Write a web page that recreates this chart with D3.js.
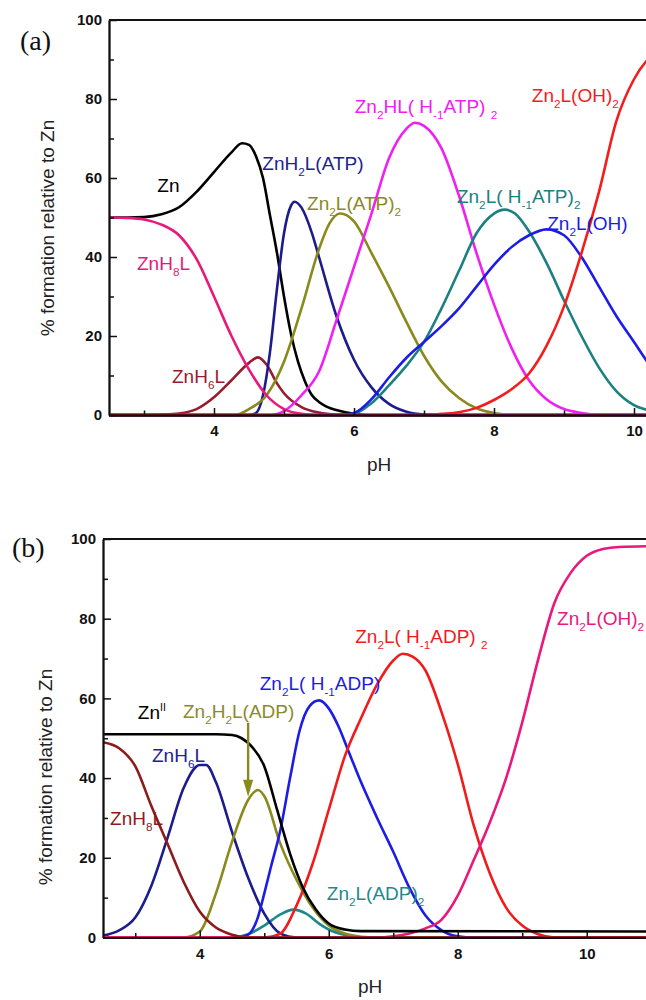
<!DOCTYPE html>
<html>
<head>
<meta charset="utf-8">
<script src="https://cdn.jsdelivr.net/npm/d3@7"></script>
<style>
  body { margin: 0; background: #fff; }
  svg { display: block; font-family: "Liberation Sans", Arial, sans-serif; }
  text { white-space: pre; }
</style>
</head>
<body>
<div id="okvir"></div>
<script>

// 1. Podaci (pH, % nastajanja) -- ocitano sa slike

// (a) ATP
const znA        = [[2.5,50],[2.75,50],[3.0,50.1],[3.25,50.8],[3.5,52.6],[3.75,56.5],[4.0,61.5],[4.25,66.5],[4.4,68.8],[4.5,68.4],[4.6,65.5],[4.7,60],[4.8,50.5],[4.9,41],[5.0,30],[5.1,20.5],[5.2,13.5],[5.3,8.5],[5.4,5],[5.5,3.3],[5.6,2.2],[5.8,1],[6.0,0.3],[6.2,0],[10.5,0]]
const znH8LA     = [[2.5,50],[2.75,49.9],[3.0,49.5],[3.25,48.2],[3.5,45.5],[3.75,39.5],[4.0,30],[4.25,20],[4.5,11.5],[4.75,5],[5.0,1.5],[5.25,0.3],[5.5,0],[10.5,0]]
const znH6LA     = [[2.5,0],[3.0,0],[3.25,0.1],[3.5,0.4],[3.75,1.5],[4.0,4.5],[4.25,8.8],[4.5,13.2],[4.63,14.6],[4.75,12.8],[4.9,8],[5.0,5.5],[5.25,2],[5.5,0.6],[5.75,0.1],[6.0,0],[10.5,0]]
const znH2LatpA  = [[2.5,0],[4.5,0],[4.6,0.5],[4.7,5],[4.8,16],[4.9,32],[5.0,46],[5.1,53],[5.15,54],[5.25,52.5],[5.4,46],[5.5,40],[5.75,25],[6.0,14],[6.25,7],[6.5,2.8],[6.75,0.8],[7.0,0.1],[7.2,0],[10.5,0]]
const zn2LatpA   = [[2.5,0],[4.3,0],[4.5,1.5],[4.75,5],[5.0,13.5],[5.25,27],[5.5,42],[5.65,48.5],[5.8,51],[6.0,49],[6.25,41],[6.5,32.5],[6.75,23.5],[7.0,15],[7.25,8.5],[7.5,4.3],[7.75,1.7],[8.0,0.5],[8.25,0],[10.5,0]]
const zn2HLA     = [[2.5,0],[4.8,0],[5.0,1],[5.25,5],[5.5,11],[5.75,24],[6.0,37.5],[6.25,51],[6.5,65],[6.75,72.5],[6.87,74],[7.0,73.2],[7.25,67.5],[7.5,55.5],[7.75,41],[8.0,28],[8.25,17],[8.5,8.8],[8.75,4],[9.0,1.5],[9.25,0.5],[9.5,0],[10.5,0]]
const zn2LH1A    = [[2.5,0],[5.8,0],[6.0,0.3],[6.25,3],[6.5,7.5],[6.75,12.5],[7.0,18.5],[7.25,27],[7.5,36.5],[7.75,46],[8.0,51],[8.15,52],[8.3,51],[8.5,46.5],[8.75,38.5],[9.0,29],[9.25,20],[9.5,12],[9.75,6],[10.0,2.5],[10.25,1],[10.5,0.3]]
const zn2LOHA    = [[2.5,0],[5.8,0],[6.0,0.5],[6.25,4],[6.5,9.5],[6.75,14.5],[7.0,18.5],[7.25,22.5],[7.5,27],[7.75,32.5],[8.0,38],[8.25,42.5],[8.5,45.5],[8.75,47],[9.0,45.5],[9.25,40],[9.5,32.5],[9.75,25],[10.0,18.5],[10.25,12],[10.5,7]]
const zn2LOH2A   = [[2.5,0],[7.0,0],[7.25,0.3],[7.5,0.7],[7.75,1.8],[8.0,3.8],[8.25,6.5],[8.5,10.5],[8.75,17.5],[9.0,27.5],[9.25,41],[9.5,56.5],[9.75,74.5],[10.0,85],[10.25,91],[10.5,94]]

// (b) ADP
const znIIB      = [[2.5,51],[4.25,51],[4.5,50.8],[4.65,50],[4.8,48],[5.0,43],[5.2,32],[5.4,21],[5.6,12.5],[5.8,7],[6.0,3.5],[6.25,2],[6.5,1.6],[11.5,1.5]]
const znH8LB     = [[2.5,49],[2.75,47.5],[3.0,43],[3.25,33],[3.5,23.5],[3.75,14],[4.0,6.5],[4.25,2.5],[4.5,0.7],[4.75,0],[11.5,0]]
const znH6LB     = [[2.5,0.5],[2.75,1.8],[3.0,5],[3.25,13],[3.5,25],[3.75,37.5],[4.0,43.3],[4.1,43.3],[4.25,39],[4.5,26.5],[4.75,15],[5.0,6],[5.25,1],[5.5,0],[11.5,0]]
const zn2H2LB    = [[2.5,0],[3.75,0],[4.0,1.5],[4.25,11],[4.5,24],[4.75,34.5],[4.9,37],[5.0,35.5],[5.25,23.5],[5.5,14.5],[5.75,7.5],[6.0,3],[6.25,1],[6.5,0.2],[6.75,0],[11.5,0]]
const zn2LadpB   = [[2.5,0],[4.5,0],[4.75,0.8],[5.0,3],[5.25,5.8],[5.45,7],[5.65,6],[5.85,3.5],[6.0,2],[6.25,0.6],[6.5,0],[11.5,0]]
const zn2LH1B    = [[2.5,0],[4.6,0],[4.75,0.7],[4.9,5],[5.0,11],[5.1,17.5],[5.25,27],[5.4,40],[5.55,52],[5.7,58],[5.85,59.5],[6.0,57.5],[6.15,53],[6.3,47],[6.5,39],[6.75,30],[7.0,21.5],[7.25,12.5],[7.5,5.5],[7.75,1.8],[8.0,0.3],[8.25,0],[11.5,0]]
const zn2LH1_2B  = [[2.5,0],[5.0,0],[5.25,1],[5.5,8],[5.75,18.5],[6.0,32],[6.25,45.5],[6.5,55],[6.75,63.5],[7.0,69.5],[7.15,71.2],[7.3,70.5],[7.5,67],[7.75,56.5],[8.0,43.5],[8.25,28],[8.5,16],[8.75,7.5],[9.0,3],[9.25,0.8],[9.5,0],[11.5,0]]
const zn2LOH2B   = [[2.5,0],[6.75,0],[7.0,0.3],[7.25,1],[7.5,2.3],[7.75,4.5],[8.0,10.5],[8.25,19.5],[8.5,29],[8.75,40],[9.0,54],[9.25,70],[9.5,84],[9.75,91.5],[10.0,95.8],[10.25,97.5],[10.5,98],[11.5,98.3]]

// oznake osi
const yGlavne = [0, 20, 40, 60, 80, 100]
const ySporedne = [10, 30, 50, 70, 90]
const xGlavne = [4, 6, 8, 10]
const xSporedne = [3, 5, 7, 9, 11]

// 2. Postavke panela

const panelA = {
  slovo: "(a)", slovoX: 20, slovoY: 50,
  lijevo: 109, gore: 20, dolje: 415, pxPoPh: 70, phMax: 10.5,
  naslovY: 228, naslovX: 54, phOznaka: [6.36, 471],
  serije: [
    { podaci: znA, boja: "#000000" },
    { podaci: znH6LA, boja: "#9a1b2e" },
    { podaci: znH2LatpA, boja: "#1c1c8c" },
    { podaci: zn2LatpA, boja: "#8a8a1c" },
    { podaci: zn2HLA, boja: "#f020f0" },
    { podaci: zn2LH1A, boja: "#1c8080" },
    { podaci: zn2LOHA, boja: "#1c1ce6" },
    { podaci: zn2LOH2A, boja: "#f51c1c" },
    { podaci: znH8LA, boja: "#e8187c" },
  ],
  oznake: [
    { t: "Zn", ph: 3.19, v: 56.5, boja: "#000000" },
    { t: "ZnH_{8}L", ph: 2.9, v: 36.7, boja: "#e8187c" },
    { t: "ZnH_{6}L", ph: 3.4, v: 8.1, boja: "#9a1b2e" },
    { t: "ZnH_{2}L(ATP)", ph: 4.69, v: 62, boja: "#22228f" },
    { t: "Zn_{2}L(ATP)_{2}", ph: 5.33, v: 51.9, boja: "#8a8a1c" },
    { t: "Zn_{2}HL( H_{-1}ATP) _{2}", ph: 6.01, v: 76.5, boja: "#f020f0" },
    { t: "Zn_{2}L(OH)_{2}", ph: 8.54, v: 79.2, boja: "#f51c1c" },
    { t: "Zn_{2}L( H_{-1}ATP)_{2}", ph: 7.47, v: 53.7, boja: "#1c8080" },
    { t: "Zn_{2}L(OH)", ph: 8.76, v: 46.8, boja: "#1c1ce6" },
  ],
}

const panelB = {
  slovo: "(b)", slovoX: 12, slovoY: 557,
  lijevo: 103, gore: 539, dolje: 937.5, pxPoPh: 64.5, phMax: 11.5,
  naslovY: 777, naslovX: 52, phOznaka: [6.64, 993],
  serije: [
    { podaci: zn2LadpB, boja: "#1c8a8a" },
    { podaci: znH6LB, boja: "#1c1c8c" },
    { podaci: zn2H2LB, boja: "#8a8a1c" },
    { podaci: zn2LH1B, boja: "#1c1ce6" },
    { podaci: zn2LH1_2B, boja: "#f01c1c" },
    { podaci: zn2LOH2B, boja: "#e8187c" },
    { podaci: znIIB, boja: "#000000" },
    { podaci: znH8LB, boja: "#8c1c1c" },
  ],
  oznake: [
    { t: "Zn^{II}", ph: 3.04, v: 54.9, boja: "#000000" },
    { t: "Zn_{2}H_{2}L(ADP)", ph: 3.74, v: 55.2, boja: "#8a8a2a" },
    { t: "ZnH_{6}L", ph: 3.26, v: 44.1, boja: "#22228f" },
    { t: "ZnH_{8}L", ph: 2.61, v: 28.3, boja: "#8c1c1c" },
    { t: "Zn_{2}L( H_{-1}ADP)", ph: 4.93, v: 62.2, boja: "#1c1ce6" },
    { t: "Zn_{2}L( H_{-1}ADP) _{2}", ph: 6.41, v: 74, boja: "#f01c1c" },
    { t: "Zn_{2}L(OH)_{2}", ph: 9.54, v: 78.5, boja: "#e8187c" },
    { t: "Zn_{2}L(ADP)_{2}", ph: 5.97, v: 9.4, boja: "#1c8a8a" },
  ],
  strelica: { ph: 4.75, od: 53.9, do: 35.3, boja: "#8a8a1c" },
}

// 3. Canvas

const okvir = d3.select("#okvir")
  .append("svg")
    .attr("width", 646)
    .attr("height", 1000)

function pisiOznaku(g, x, y, tekst, boja, vel) {
  const t = g.append("text")
      .attr("x", x)
      .attr("y", y)
      .attr("fill", boja)
      .attr("xml:space", "preserve")
      .style("font-size", vel + "px")
  const dijelovi = tekst.split(/(_\{[^}]*\}|\^\{[^}]*\})/).filter(s => s.length)
  let trenutni = 0
  dijelovi.forEach(d => {
    let sadrzaj = d, pomak = 0, velicina = vel
    if (d.startsWith("_{")) { sadrzaj = d.slice(2, -1); pomak = vel * 0.32; velicina = vel * 0.62 }
    else if (d.startsWith("^{")) { sadrzaj = d.slice(2, -1); pomak = -vel * 0.42; velicina = vel * 0.55 }
    t.append("tspan")
        .attr("dy", pomak - trenutni)
        .style("font-size", velicina + "px")
        .text(sadrzaj)
    trenutni = pomak
  })
}

function crtajPanel(p) {
  const desno = p.lijevo + (p.phMax - 2.5) * p.pxPoPh

  // 4. Skale
  const xSkala = d3.scaleLinear()
    .domain([2.5, p.phMax])
    .range([p.lijevo, desno])

  const ySkala = d3.scaleLinear()
    .domain([0, 100])
    .range([p.dolje, p.gore])

  const g = okvir.append("g")

  // 5. Krivulje
  const generatorLinije = d3.line()
    .x(d => xSkala(d[0]))
    .y(d => ySkala(d[1]))
    .curve(d3.curveMonotoneX)

  g.selectAll("path.krivulja")
    .data(p.serije)
    .join("path")
      .attr("class", "krivulja")
      .attr("fill", "none")
      .attr("stroke", d => d.boja)
      .attr("stroke-width", 2.6)
      .attr("stroke-linejoin", "round")
      .attr("d", d => generatorLinije(d.podaci))

  // 6. Osi
  g.append("g")
      .attr("transform", `translate(${p.lijevo},0)`)
    .call(d3.axisLeft(ySkala).tickValues(yGlavne).tickSize(-8).tickSizeOuter(0).tickPadding(7))
  g.append("g")
      .attr("transform", `translate(${p.lijevo},0)`)
    .call(d3.axisLeft(ySkala).tickValues(ySporedne).tickSize(-5).tickSizeOuter(0).tickFormat(""))

  g.append("g")
      .attr("transform", `translate(0,${p.dolje})`)
    .call(d3.axisBottom(xSkala).tickValues(xGlavne).tickSize(-7).tickSizeOuter(0).tickPadding(10.5))
  g.append("g")
      .attr("transform", `translate(0,${p.dolje})`)
    .call(d3.axisBottom(xSkala).tickValues(xSporedne).tickSize(-4.5).tickSizeOuter(0).tickFormat(""))

  g.selectAll(".domain").attr("stroke", "#111").attr("stroke-width", 1.8)
  g.selectAll(".tick line").attr("stroke", "#111").attr("stroke-width", 1.5)
  g.selectAll(".tick text")
      .attr("fill", "#111")
      .style("font-family", "'Liberation Sans', Arial, sans-serif")
      .style("font-size", "15px")
      .style("font-weight", "bold")

  g.append("line")
      .attr("x1", p.lijevo)
      .attr("x2", desno)
      .attr("y1", p.gore)
      .attr("y2", p.gore)
      .attr("stroke", "#111")
      .attr("stroke-width", 1.8)

  g.append("text")
      .attr("transform", `translate(${p.naslovX},${p.naslovY}) rotate(-90)`)
      .attr("text-anchor", "middle")
      .attr("fill", "#222")
      .style("font-size", "19px")
      .text("% formation relative to Zn")

  g.append("text")
      .attr("x", xSkala(p.phOznaka[0]))
      .attr("y", p.phOznaka[1])
      .attr("text-anchor", "middle")
      .attr("fill", "#222")
      .style("font-size", "19px")
      .text("pH")

  g.append("text")
      .attr("x", p.slovoX)
      .attr("y", p.slovoY)
      .attr("fill", "#111")
      .style("font-family", "'Liberation Serif', 'Times New Roman', serif")
      .style("font-size", "28px")
      .text(p.slovo)

  // 7. Oznake vrsta
  p.oznake.forEach(o => pisiOznaku(g, xSkala(o.ph), ySkala(o.v), o.t, o.boja, 19))

  if (p.strelica) {
    const s = p.strelica
    const sx = xSkala(s.ph)
    g.append("line")
        .attr("x1", sx).attr("x2", sx)
        .attr("y1", ySkala(s.od)).attr("y2", ySkala(s.do) - 14)
        .attr("stroke", s.boja)
        .attr("stroke-width", 2.4)
    g.append("path")
        .attr("d", `M${sx - 5},${ySkala(s.do) - 17}L${sx + 5},${ySkala(s.do) - 17}L${sx},${ySkala(s.do)}Z`)
        .attr("fill", s.boja)
  }
}

crtajPanel(panelA)
crtajPanel(panelB)

</script>
</body>
</html>
